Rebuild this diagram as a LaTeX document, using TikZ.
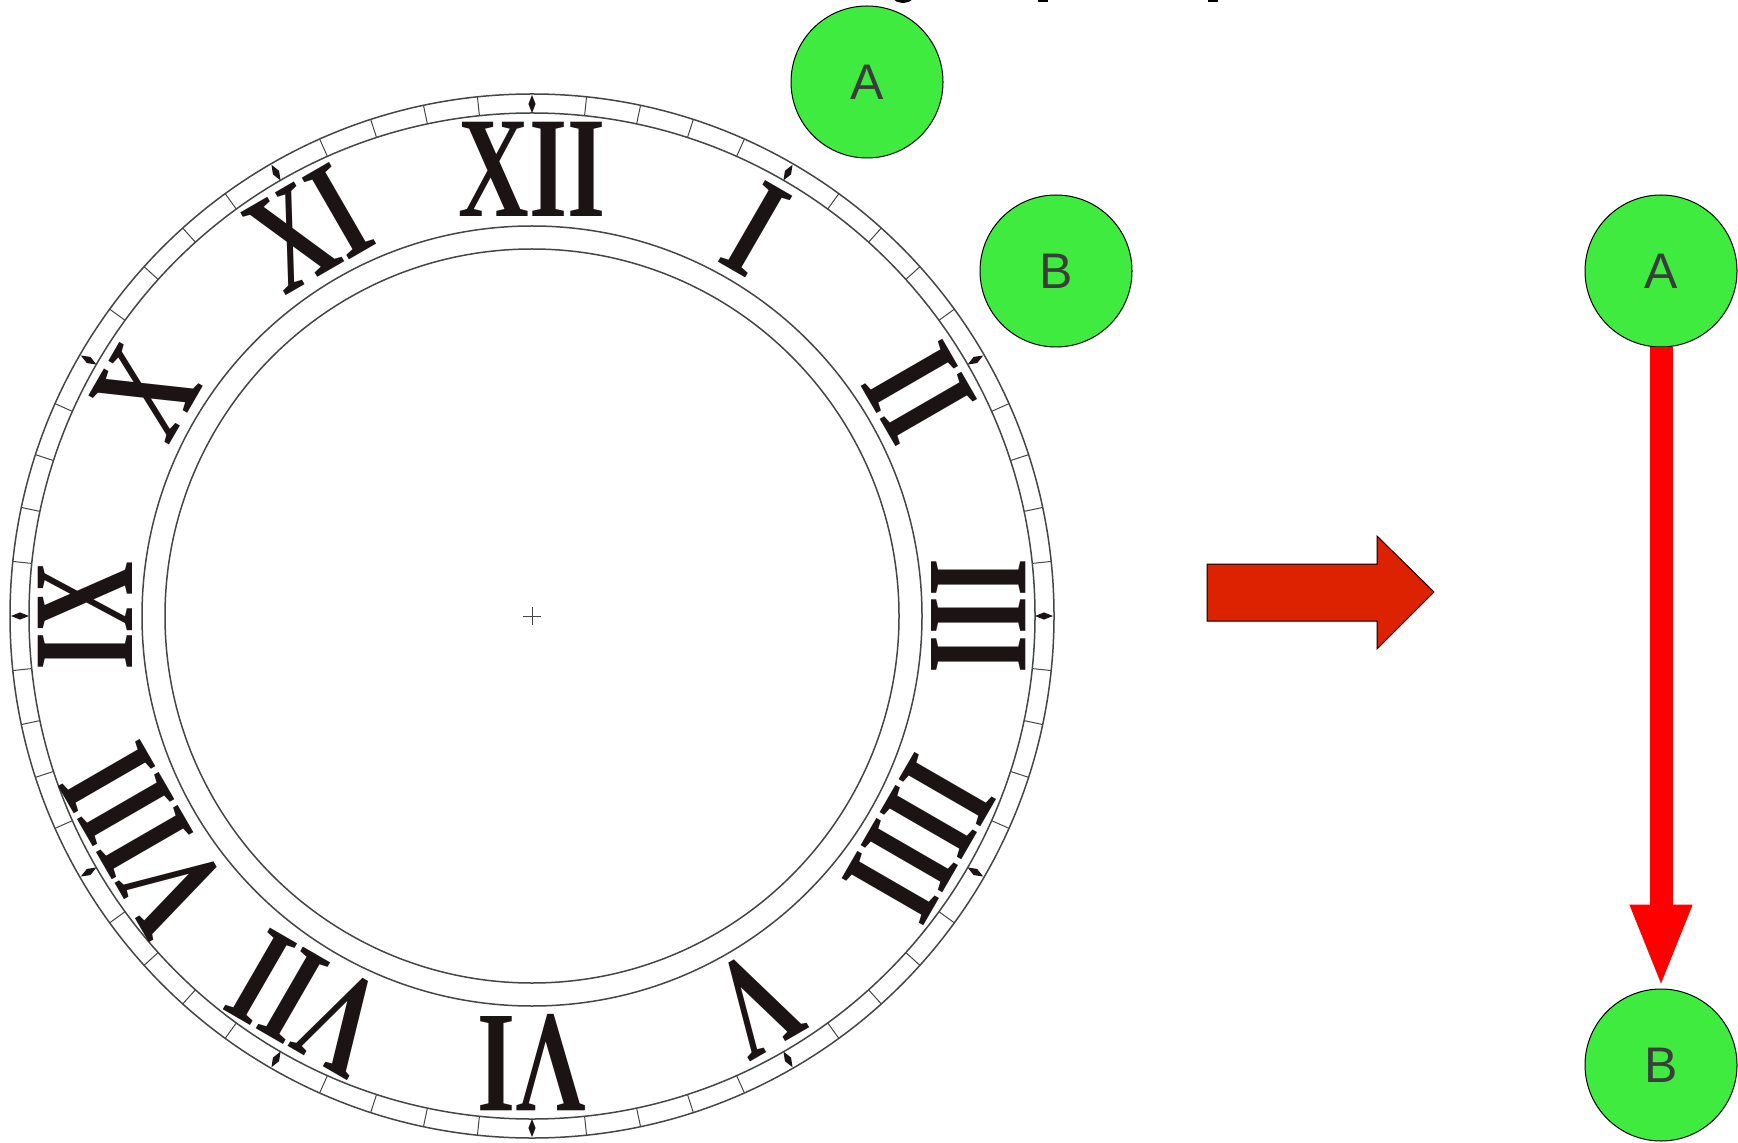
\documentclass[tikz,border=0pt]{standalone}
\usepackage{fontspec}
\setmainfont{Liberation Serif}
\newfontfamily\labelfont{Liberation Sans}
\usetikzlibrary{arrows.meta,calc}
\definecolor{nodegreen}{RGB}{62,235,62}
\definecolor{bigred}{RGB}{220,34,0}
\definecolor{numblack}{RGB}{28,20,20}
\definecolor{labelgray}{RGB}{60,60,60}
\definecolor{ringgray}{RGB}{70,70,70}
\begin{document}
\begin{tikzpicture}[x=0.5pt,y=0.5pt,
  ring/.style={draw=ringgray,line width=0.75pt},
  tickline/.style={draw=ringgray,line width=0.5pt},
  numeral/.style={text=numblack,font=\fontsize{72}{72}\selectfont\bfseries,inner sep=0pt},
  gnode/.style={circle,draw=black,line width=0.5pt,fill=nodegreen,minimum size=76pt,inner sep=0pt,text=labelgray,font=\labelfont\fontsize{25}{25}\selectfont},
  bigarrow/.style={fill=bigred,draw=black,line width=0.5pt},
  redlink/.style={draw=red,line width=11.5pt,-{Triangle[length=42pt,width=28pt]}}
]
\useasboundingbox (0,0) rectangle (1738,1142);
\fill[white] (0,0) rectangle (1738,1142);
% clock face
\coordinate (c) at (532,526);
\draw[ring] (c) circle[radius=522];
\draw[ring] (c) circle[radius=503];
\draw[ring] (c) circle[radius=390];
\draw[ring] (c) circle[radius=367];
\foreach \m in {0,...,59} {
  \pgfmathsetmacro\a{90-6*\m}
  \pgfmathtruncatemacro\r{mod(\m,5)}
  \ifnum\r=0
    \pgfmathsetmacro\ap{\a+0.4}
    \pgfmathsetmacro\am{\a-0.4}
    \fill[numblack] ($(c)+(\a:503)$) -- ($(c)+(\ap:512)$) -- ($(c)+(\a:521)$) -- ($(c)+(\am:512)$) -- cycle;
  \else
    \draw[tickline] ($(c)+(\a:503)$) -- ($(c)+(\a:522)$);
  \fi
}
\foreach \h/\t in {1/I,2/II,3/III,4/IIII,5/V,6/VI,7/VII,8/VIII,9/IX,10/X,11/XI,12/XII} {
  \pgfmathsetmacro\a{90-30*\h}
  \pgfmathsetmacro\rot{\a-90}
  \node[numeral,rotate=\rot] (n\h) at ($(c)+(\a:447)$) {\scalebox{0.68}[1.0]{\t}};
}
\draw[tickline] ($(c)+(-9,0)$) -- ($(c)+(9,0)$);
\draw[tickline] ($(c)+(0,-9)$) -- ($(c)+(0,9)$);
% left nodes
\node[gnode] (A1) at (867,1060) {A};
\node[gnode] (B1) at (1056,871) {B};
% big arrow
\draw[bigarrow] (1207,578) -- (1377,578) -- (1377,606) -- (1434,550) -- (1377,493) -- (1377,521) -- (1207,521) -- cycle;
% right nodes
\node[gnode] (A2) at (1661,871) {A};
\node[gnode] (B2) at (1661,77) {B};
\draw[redlink] (A2) -- (B2);
% cut-off title fragments at top edge
\begin{scope}
  \clip (0,0) rectangle (1738,1142);
  \draw[black,line width=3pt] (903,1154) ellipse[x radius=12, y radius=12];
  \fill[black] (1038,1140) rectangle (1048,1150);
  \fill[black] (1208,1140) rectangle (1218,1150);
\end{scope}
\end{tikzpicture}
\end{document}
